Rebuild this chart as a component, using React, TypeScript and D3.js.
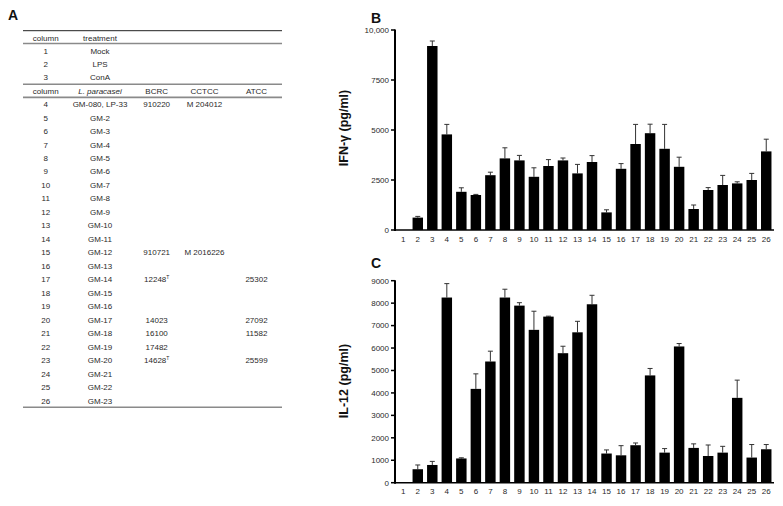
import React from "react";
import * as d3 from "d3";

const columns = d3.range(1, 27).map(String);

const ifnValues = [0, 620, 9200, 4780, 1910, 1750, 2740, 3580, 3480, 2660, 3200, 3480, 2830, 3400, 880, 3060, 4300, 4840, 4060, 3160, 1050, 2000, 2250, 2330, 2500, 3930];
const ifnErrors = [0, 60, 250, 500, 200, 30, 150, 530, 250, 450, 320, 120, 450, 320, 130, 260, 980, 450, 1220, 480, 200, 120, 480, 80, 330, 610];
const ifnTicks = [0, 2500, 5000, 7500, 10000];
const ifnTickLabels = ["0", "2500", "5000", "7500", "10,000"];

const il12Values = [0, 600, 790, 8250, 1080, 4180, 5400, 8250, 7890, 6810, 7400, 5770, 6700, 7950, 1300, 1220, 1670, 4780, 1340, 6070, 1550, 1190, 1340, 3780, 1120, 1490];
const il12Errors = [0, 190, 160, 620, 30, 670, 460, 370, 130, 830, 20, 310, 490, 400, 160, 430, 100, 310, 180, 130, 180, 490, 280, 790, 580, 210];
const il12Ticks = [0, 1000, 2000, 3000, 4000, 5000, 6000, 7000, 8000, 9000];

const treatmentHeader = ["column", "treatment"];
const treatmentCols = ["1", "2", "3"];
const treatmentNames = ["Mock", "LPS", "ConA"];

const strainHeader = ["column", "L. paracasei", "BCRC", "CCTCC", "ATCC"];
const strainCols = d3.range(4, 27).map(String);
const strainNames = ["GM-080, LP-33", "GM-2", "GM-3", "GM-4", "GM-5", "GM-6", "GM-7", "GM-8", "GM-9", "GM-10", "GM-11", "GM-12", "GM-13", "GM-14", "GM-15", "GM-16", "GM-17", "GM-18", "GM-19", "GM-20", "GM-21", "GM-22", "GM-23"];
const strainBCRC = ["910220", "", "", "", "", "", "", "", "", "", "", "910721", "", "12248T", "", "", "14023", "16100", "17482", "14628T", "", "", ""];
const strainCCTCC = ["M 204012", "", "", "", "", "", "", "", "", "", "", "M 2016226", "", "", "", "", "", "", "", "", "", "", ""];
const strainATCC = ["", "", "", "", "", "", "", "", "", "", "", "", "", "25302", "", "", "27092", "11582", "", "25599", "", "", ""];

const FONT = "Arial, 'Liberation Sans', sans-serif";
const TXT = "#2a2a2a";

function BarPanel({ values, errors, ticks, tickLabels, yMax, top, bottom, title, letter, letterY, titleY }) {
  const x = d3.scaleBand().domain(columns).range([396, 773.5]).paddingInner(0.28).paddingOuter(0.14);
  const y = d3.scaleLinear().domain([0, yMax]).range([bottom, top]);
  const axisX = 395;
  return (
    <g>
      <text x={371} y={letterY} fontFamily={FONT} fontWeight="bold" fontSize={14} fill="#111">{letter}</text>
      <text transform={`translate(348,${titleY}) rotate(-90)`} textAnchor="middle" fontFamily={FONT} fontWeight="bold" fontSize={12.5} fill="#111">{title}</text>
      {values.map((v, i) => {
        const c = columns[i];
        const bx = x(c);
        const bw = x.bandwidth();
        const cx = bx + bw / 2;
        const e = errors[i];
        return (
          <g key={c}>
            {e > 0 && (
              <g stroke="#333" strokeWidth={1}>
                <line x1={cx} x2={cx} y1={y(v)} y2={y(v + e)} />
                <line x1={cx - 2.5} x2={cx + 2.5} y1={y(v + e)} y2={y(v + e)} />
              </g>
            )}
            {v > 0 && <rect x={bx} y={y(v)} width={bw} height={y(0) - y(v)} fill="#000" />}
            <text x={cx} y={bottom + 11.5} textAnchor="middle" fontFamily={FONT} fontSize={8} fill={TXT}>{c}</text>
          </g>
        );
      })}
      <line x1={axisX} x2={axisX} y1={y(yMax) - 0.5} y2={bottom + 1} stroke="#000" strokeWidth={2} />
      <line x1={axisX} x2={774} y1={bottom} y2={bottom} stroke="#000" strokeWidth={1.5} />
      {ticks.map((t, i) => (
        <g key={t}>
          <line x1={axisX - 4} x2={axisX} y1={y(t)} y2={y(t)} stroke="#000" strokeWidth={1.5} />
          <text x={axisX - 6} y={y(t)} dy="0.35em" textAnchor="end" fontFamily={FONT} fontSize={8} fill={TXT}>{tickLabels ? tickLabels[i] : String(t)}</text>
        </g>
      ))}
    </g>
  );
}

function Cell({ x, y, text, italic }) {
  if (!text) return null;
  const sup = text.endsWith("T") && /^\d/.test(text);
  const main = sup ? text.slice(0, -1) : text;
  return (
    <text x={x} y={y} dy="0.35em" textAnchor="middle" fontFamily={FONT} fontSize={8} fill={TXT} fontStyle={italic ? "italic" : "normal"}>
      {main}
      {sup && <tspan fontSize={5} dy="-3">T</tspan>}
    </text>
  );
}

function Table() {
  const colX = [45.7, 100, 156.7, 204.5, 256.5];
  const rowTop = [51, 64.3, 77.3];
  const rowY = d3.scaleLinear().domain([0, 22]).range([104.3, 400.7]);
  return (
    <g>
      <text x={8} y={20} fontFamily={FONT} fontWeight="bold" fontSize={14} fill="#111">A</text>
      <line x1={23} x2={282} y1={30.7} y2={30.7} stroke="#222" strokeWidth={1} />
      {treatmentHeader.map((h, i) => <Cell key={h} x={colX[i]} y={38} text={h} />)}
      <line x1={23} x2={282} y1={43.5} y2={43.5} stroke="#8a8a8a" strokeWidth={1.6} />
      {treatmentCols.map((c, i) => (
        <g key={c}>
          <Cell x={colX[0]} y={rowTop[i]} text={c} />
          <Cell x={colX[1]} y={rowTop[i]} text={treatmentNames[i]} />
        </g>
      ))}
      <line x1={23} x2={282} y1={84.3} y2={84.3} stroke="#8a8a8a" strokeWidth={1.6} />
      {strainHeader.map((h, i) => <Cell key={h} x={colX[i]} y={90.7} text={h} italic={i === 1} />)}
      <line x1={23} x2={282} y1={97.4} y2={97.4} stroke="#8a8a8a" strokeWidth={1.6} />
      {strainCols.map((c, i) => (
        <g key={c}>
          <Cell x={colX[0]} y={rowY(i)} text={c} />
          <Cell x={colX[1]} y={rowY(i)} text={strainNames[i]} />
          <Cell x={colX[2]} y={rowY(i)} text={strainBCRC[i]} />
          <Cell x={colX[3]} y={rowY(i)} text={strainCCTCC[i]} />
          <Cell x={colX[4]} y={rowY(i)} text={strainATCC[i]} />
        </g>
      ))}
      <line x1={23} x2={282} y1={407.3} y2={407.3} stroke="#8a8a8a" strokeWidth={1.6} />
    </g>
  );
}

export default function App() {
  return (
    <svg width={783} height={506} style={{ position: "absolute", left: 0, top: 0, background: "#fff" }}>
      <rect width={783} height={506} fill="#fff" />
      <Table />
      <BarPanel values={ifnValues} errors={ifnErrors} ticks={ifnTicks} tickLabels={ifnTickLabels} yMax={10000} top={30} bottom={230} title="IFN-γ (pg/ml)" letter="B" letterY={23} titleY={128} />
      <BarPanel values={il12Values} errors={il12Errors} ticks={il12Ticks} tickLabels={null} yMax={9000} top={280.7} bottom={482.7} title="IL-12 (pg/ml)" letter="C" letterY={268} titleY={381} />
    </svg>
  );
}
